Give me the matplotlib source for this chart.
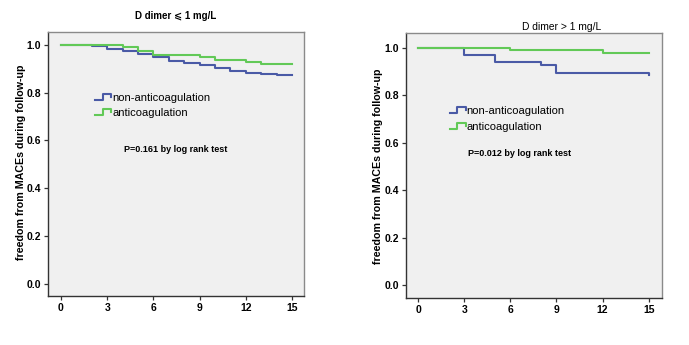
import matplotlib
matplotlib.use("Agg")
import matplotlib.pyplot as plt
from matplotlib.legend_handler import HandlerBase
from matplotlib.lines import Line2D

plt.rcParams['font.family'] = ['Liberation Sans', 'DejaVu Sans']

# ---- data ----
left_title = "D dimer \u2a7d 1 mg/L"
right_title = "D dimer > 1 mg/L"
series_names = ["non-anticoagulation", "anticoagulation"]

left_non_t = [0, 2, 3, 4, 5, 6, 7, 8, 9, 10, 11, 12, 13, 14, 15]
left_non_s = [1.0, 0.994, 0.983, 0.974, 0.962, 0.950, 0.934, 0.923, 0.916,
              0.905, 0.892, 0.884, 0.878, 0.873, 0.873]
left_anti_t = [0, 4, 5, 6, 9, 10, 12, 13, 15]
left_anti_s = [1.0, 0.993, 0.974, 0.957, 0.948, 0.937, 0.930, 0.922, 0.922]

right_non_t = [0, 3, 5, 8, 9, 15]
right_non_s = [1.0, 0.970, 0.940, 0.926, 0.895, 0.884]
right_anti_t = [0, 6, 12, 15]
right_anti_s = [1.0, 0.992, 0.979, 0.979]

left_p = "P=0.161 by log rank test"
right_p = "P=0.012 by log rank test"
ylabel = "freedom from MACEs during follow-up"
xticks = [0, 3, 6, 9, 12, 15]
yticks = [0.0, 0.2, 0.4, 0.6, 0.8, 1.0]

BLUE = "#4a5aa6"
GREEN = "#62c957"
BG = "#f0f0f0"
TICKFONT = ["Liberation Sans Narrow", "Liberation Sans", "DejaVu Sans"]


class StepHandler(HandlerBase):
    def create_artists(self, legend, orig_handle, xdescent, ydescent,
                       width, height, fontsize, trans):
        x0 = -xdescent
        y0 = -ydescent
        xs = [x0, x0 + width * 0.45, x0 + width * 0.45, x0 + width, x0 + width]
        ys = [y0 + height * 0.15, y0 + height * 0.15, y0 + height * 0.9,
              y0 + height * 0.9, y0 + height * 0.5]
        ln = Line2D(xs, ys, color=orig_handle.get_color(), lw=1.5,
                    transform=trans)
        return [ln]


fig = plt.figure(figsize=(6.89, 3.45), dpi=100)
fig.patch.set_facecolor("white")

ax1 = fig.add_axes([48 / 689, 49 / 345, 256 / 689, 264 / 345])
ax2 = fig.add_axes([406 / 689, 47 / 345, 256 / 689, 265 / 345])


def style(ax, xlim, ylim):
    ax.set_facecolor(BG)
    ax.set_xlim(*xlim)
    ax.set_ylim(*ylim)
    ax.set_xticks(xticks)
    ax.set_yticks(yticks)
    ax.set_xticklabels([str(v) for v in xticks], fontsize=7.5,
                       fontweight="bold", family=TICKFONT)
    ax.set_yticklabels([f"{v:.1f}" for v in yticks], fontsize=7.5,
                       fontweight="bold", family=TICKFONT)
    ax.tick_params(direction="out", length=3, width=0.9, color="#333333",
                   pad=2, top=False, right=False)
    for s in ["left", "bottom"]:
        ax.spines[s].set_color("#333333")
        ax.spines[s].set_linewidth(1.0)
    for s in ["top", "right"]:
        ax.spines[s].set_color("#8a8a8a")
        ax.spines[s].set_linewidth(1.0)


style(ax1, (-0.84, 15.78), (-0.052, 1.054))
style(ax2, (-0.78, 15.86), (-0.055, 1.062))

h1, = ax1.step(left_non_t, left_non_s, where="post", color=BLUE, lw=1.5)
h2, = ax1.step(left_anti_t, left_anti_s, where="post", color=GREEN, lw=1.5)
ax1.legend([h1, h2], series_names, handler_map={Line2D: StepHandler()},
           loc="upper left", bbox_to_anchor=(0.185, 0.77), frameon=False,
           fontsize=8, handlelength=1.45, handletextpad=0.05,
           labelspacing=0.45, borderaxespad=0, borderpad=0)
ax1.text(0.5, 0.554, left_p, transform=ax1.transAxes, ha="center",
         va="center", fontsize=6.5, fontweight="bold")

g1, = ax2.step(right_non_t, right_non_s, where="post", color=BLUE, lw=1.5)
g2, = ax2.step(right_anti_t, right_anti_s, where="post", color=GREEN, lw=1.5)
ax2.vlines(right_non_t[-1], right_non_s[-1], right_non_s[-2], color=BLUE, lw=1.5)
ax2.legend([g1, g2], series_names, handler_map={Line2D: StepHandler()},
           loc="upper left", bbox_to_anchor=(0.17, 0.725), frameon=False,
           fontsize=8, handlelength=1.45, handletextpad=0.05,
           labelspacing=0.55, borderaxespad=0, borderpad=0)
ax2.text(0.445, 0.545, right_p, transform=ax2.transAxes, ha="center",
         va="center", fontsize=6.5, fontweight="bold")

fig.text(176 / 689, 1 - 16 / 345, left_title, ha="center", va="center",
         fontsize=7, fontweight="bold")
fig.text(562 / 689, 1 - 27 / 345, right_title, ha="center", va="center",
         fontsize=7.4)

fig.text(21 / 689, 1 - 162 / 345, ylabel, rotation=90, ha="center",
         va="center", fontsize=7.7, fontweight="bold")
fig.text(378 / 689, 1 - 166 / 345, ylabel, rotation=90, ha="center",
         va="center", fontsize=7.7, fontweight="bold")

fig.savefig("out.png", dpi=100, facecolor="white")
